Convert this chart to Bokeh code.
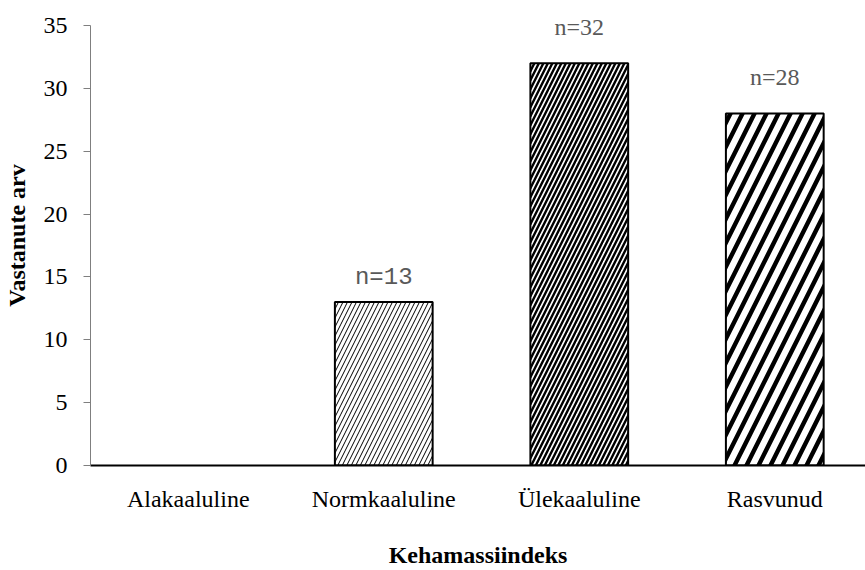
from bokeh.plotting import figure
from bokeh.models import ColumnDataSource, Range1d, FixedTicker, LinearAxis, LabelSet
from bokeh.embed import file_html
from bokeh.resources import INLINE
from bokeh.core.properties import value

categories = ["Alakaaluline", "Normkaaluline", "Ülekaaluline", "Rasvunud"]
counts = [0, 13, 32, 28]
labels = ["", "n=13", "n=32", "n=28"]
y_ticks = [0, 5, 10, 15, 20, 25, 30, 35]

xpos = [i + 0.5 for i in range(len(categories))]

p = figure(width=865, height=570, output_backend="svg", toolbar_location=None,
           x_range=Range1d(0, 3.964), y_range=Range1d(0, 36.59),
           min_border_left=90, min_border_right=0, min_border_top=5, min_border_bottom=105,
           x_axis_location=None, y_axis_location=None)
p.outline_line_color = None
p.xgrid.visible = False
p.ygrid.visible = False
p.background_fill_color = "white"
p.border_fill_color = "white"

hatch_scales = [9, 9, 9, 24]
hatch_weights = [1, 1.0, 2.4, 4.4]
for i in range(len(categories)):
    if counts[i] <= 0:
        continue
    src = ColumnDataSource(dict(x=[xpos[i]], top=[counts[i]]))
    p.vbar(x="x", top="top", bottom=0, width=0.5, source=src,
           fill_color="white", line_color="black", line_width=2,
           hatch_pattern="/", hatch_color="black",
           hatch_scale=hatch_scales[i], hatch_weight=hatch_weights[i])

# value labels
serif_idx = [i for i in range(len(categories)) if labels[i] and i != 1]
src_s = ColumnDataSource(dict(x=[xpos[i] for i in serif_idx], y=[counts[i] for i in serif_idx],
                              t=[labels[i] for i in serif_idx]))
p.add_layout(LabelSet(x="x", y="y", text="t", source=src_s, text_font=value("Liberation Serif"),
                      text_font_size="24px", text_color="#595959", text_align="center",
                      text_baseline="alphabetic", y_offset=28))
src_m = ColumnDataSource(dict(x=[xpos[1]], y=[counts[1]], t=[labels[1]]))
p.add_layout(LabelSet(x="x", y="y", text="t", source=src_m, text_font=value("Liberation Mono"),
                      text_font_size="24px", text_color="#595959", text_align="center",
                      text_baseline="alphabetic", y_offset=18))

yax = LinearAxis(ticker=FixedTicker(ticks=y_ticks), bounds=(0, 35))
yax.axis_line_color = "#7f7f7f"
yax.axis_line_width = 1
yax.major_tick_line_color = "#7f7f7f"
yax.major_tick_out = 7
yax.major_tick_in = 0
yax.minor_tick_line_color = None
yax.major_label_text_font = "Liberation Serif"
yax.major_label_text_font_size = "24px"
yax.major_label_text_color = "black"
yax.major_label_standoff = 16
yax.axis_label = "Vastanute arv"
yax.axis_label_text_font = "Liberation Serif"
yax.axis_label_text_font_style = "bold"
yax.axis_label_text_font_size = "24px"
yax.axis_label_text_color = "black"
yax.axis_label_standoff = 11
p.add_layout(yax, "left")

xax = LinearAxis(ticker=FixedTicker(ticks=xpos))
xax.major_label_overrides = {xpos[i]: categories[i] for i in range(len(categories))}
xax.axis_line_color = "black"
xax.axis_line_width = 2
xax.major_tick_line_color = None
xax.minor_tick_line_color = None
xax.major_label_text_font = "Liberation Serif"
xax.major_label_text_font_size = "24px"
xax.major_label_text_color = "black"
xax.major_label_standoff = 14
xax.axis_label = "Kehamassiindeks"
xax.axis_label_text_font = "Liberation Serif"
xax.axis_label_text_font_style = "bold"
xax.axis_label_text_font_size = "24px"
xax.axis_label_text_color = "black"
xax.axis_label_standoff = 27
p.add_layout(xax, "below")

open("out.html", "w").write(file_html(p, INLINE))
